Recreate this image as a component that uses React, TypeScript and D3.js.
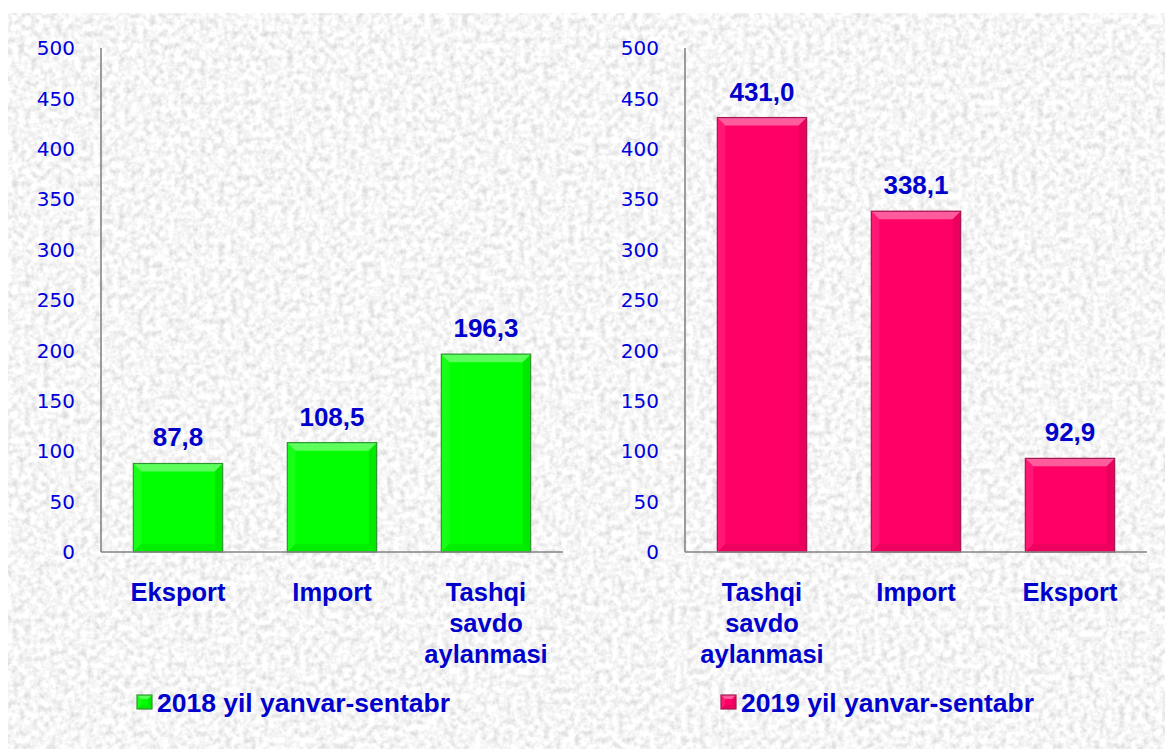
import React from "react";
import * as d3 from "d3";

const yTicks = [0, 50, 100, 150, 200, 250, 300, 350, 400, 450, 500];

const categories2018 = ["Eksport", "Import", "Tashqi savdo aylanmasi"];
const values2018 = [87.8, 108.5, 196.3];
const legend2018 = "2018 yil yanvar-sentabr";

const categories2019 = ["Tashqi savdo aylanmasi", "Import", "Eksport"];
const values2019 = [431.0, 338.1, 92.9];
const legend2019 = "2019 yil yanvar-sentabr";

const W = 1165;
const H = 749;
const TEXT = "#0000cc";
const FONT = "'Liberation Sans', Arial, sans-serif";

const catLines: Record<string, string[]> = {
  "Tashqi savdo aylanmasi": ["Tashqi", "savdo", "aylanmasi"],
};

type PanelProps = {
  x0: number;
  categories: string[];
  values: number[];
  legend: string;
  fill: string;
  light: string;
  dark: string;
  border: string;
};

function Bar({ x, y, w, h, fill, light, dark, border, bevel = 8 }: any) {
  const b = Math.min(bevel, h / 2, w / 2);
  return (
    <g>
      <rect x={x} y={y} width={w} height={h} fill={fill} />
      <polygon points={`${x},${y} ${x + w},${y} ${x + w - b},${y + b} ${x + b},${y + b}`} fill={light} />
      <polygon points={`${x},${y} ${x + b},${y + b} ${x + b},${y + h - b} ${x},${y + h}`} fill={light} opacity={0.25} />
      <polygon points={`${x + w},${y} ${x + w},${y + h} ${x + w - b},${y + h - b} ${x + w - b},${y + b}`} fill={dark} opacity={0.22} />
      <polygon points={`${x},${y + h} ${x + w},${y + h} ${x + w - b},${y + h - b} ${x + b},${y + h - b}`} fill={dark} opacity={0.18} />
      <rect x={x} y={y} width={w} height={h} fill="none" stroke={border} strokeWidth={1.2} />
    </g>
  );
}

function Panel({ x0, categories, values, legend, fill, light, dark, border }: PanelProps) {
  const top = 48;
  const bottom = 552;
  const width = 462;
  const y = d3.scaleLinear().domain([0, 500]).range([bottom, top]);
  const x = d3
    .scaleBand<string>()
    .domain(categories)
    .range([x0, x0 + width])
    .paddingInner(0.42)
    .paddingOuter(0.21);
  const fmt = (v: number) => d3.format(".1f")(v).replace(".", ",");
  return (
    <g>
      {yTicks.map((t) => (
        <text
          key={t}
          x={x0 - 26}
          y={y(t)}
          dy="0.36em"
          textAnchor="end"
          fontFamily="'DejaVu Sans', Verdana, sans-serif"
          fontSize={20}
          fill="#0000dd"
        >
          {t}
        </text>
      ))}
      {categories.map((c, i) => {
        const bx = x(c)!;
        const bw = x.bandwidth();
        const by = y(values[i]);
        return (
          <g key={c}>
            <Bar x={bx} y={by} w={bw} h={bottom - by} fill={fill} light={light} dark={dark} border={border} />
            <text
              x={bx + bw / 2}
              y={by - 17}
              textAnchor="middle"
              fontFamily={FONT}
              fontWeight="bold"
              fontSize={26}
              fill={TEXT}
            >
              {fmt(values[i])}
            </text>
            {(catLines[c] || [c]).map((ln, j) => (
              <text
                key={j}
                x={bx + bw / 2}
                y={601 + j * 31}
                textAnchor="middle"
                fontFamily={FONT}
                fontWeight="bold"
                fontSize={25.5}
                fill={TEXT}
              >
                {ln}
              </text>
            ))}
          </g>
        );
      })}
      <line x1={x0} y1={top} x2={x0} y2={bottom} stroke="#858585" strokeWidth={1.6} />
      <line x1={x0} y1={bottom} x2={x0 + width} y2={bottom} stroke="#858585" strokeWidth={1.6} />
      <g>
        <Bar x={x0 + 36} y={695} w={15} h={14} fill={fill} light={light} dark={dark} border={border} bevel={4} />
        <text
          x={x0 + 56}
          y={712}
          fontFamily={FONT}
          fontWeight="bold"
          fontSize={25}
          fill={TEXT}
          textLength={293}
          lengthAdjust="spacingAndGlyphs"
        >
          {legend}
        </text>
      </g>
    </g>
  );
}

export default function App() {
  return (
    <svg
      width={W}
      height={H}
      style={{ position: "absolute", left: 0, top: 0 }}
      xmlns="http://www.w3.org/2000/svg"
    >
      <defs>
        <filter id="tex" x="0" y="0" width="100%" height="100%">
          <feTurbulence type="fractalNoise" baseFrequency="0.16" numOctaves="3" seed="4" result="n" />
          <feColorMatrix
            in="n"
            type="matrix"
            values="0.6 0 0 0 0.62  0.6 0 0 0 0.62  0.6 0 0 0 0.62  0 0 0 0 1"
          />
        </filter>
      </defs>
      <rect x={0} y={0} width={W} height={H} fill="#ffffff" />
      <rect x={8} y={13} width={W - 8} height={H - 13} fill="#ebebeb" />
      <rect x={8} y={13} width={W - 8} height={H - 13} filter="url(#tex)" />
      <Panel
        x0={101}
        categories={categories2018}
        values={values2018}
        legend={legend2018}
        fill="#00ff00"
        light="#5cff5c"
        dark="#00a000"
        border="#2e962e"
      />
      <Panel
        x0={685}
        categories={categories2019}
        values={values2019}
        legend={legend2019}
        fill="#ff0066"
        light="#ff5c9d"
        dark="#a00040"
        border="#a3154f"
      />
    </svg>
  );
}
